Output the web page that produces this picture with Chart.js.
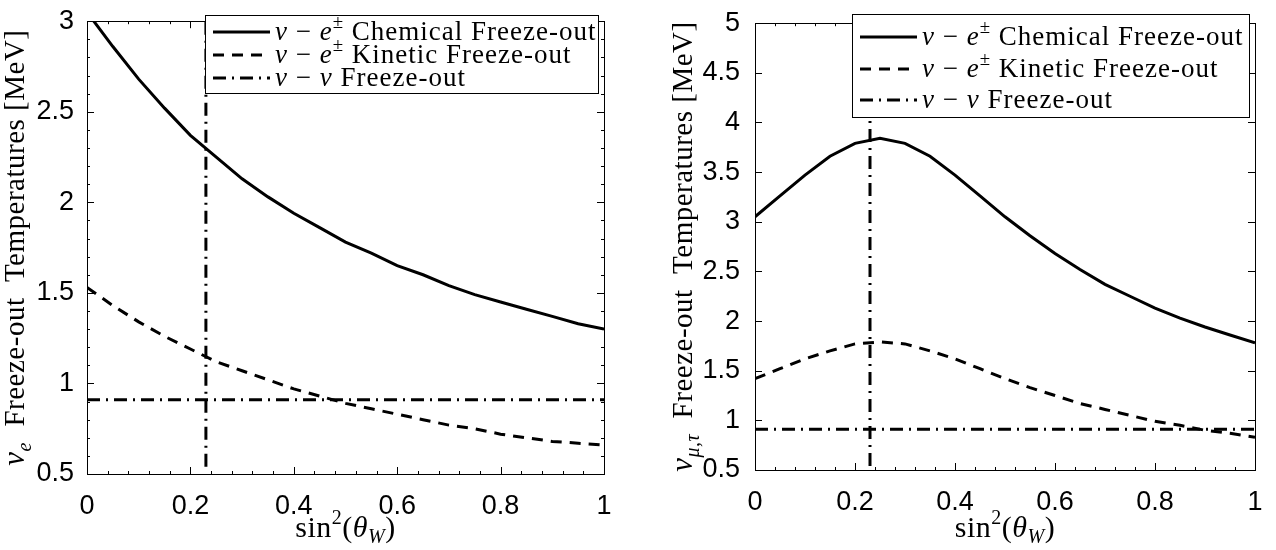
<!DOCTYPE html>
<html>
<head>
<meta charset="utf-8">
<script src="https://cdn.jsdelivr.net/npm/chart.js@4/dist/chart.umd.min.js"></script>
<style>
  html, body { margin: 0; padding: 0; background: #fff; }
  #wrap { position: relative; width: 1276px; height: 550px; }
  #c1 { position: absolute; left: 0; top: 0; }
  #c2 { position: absolute; left: 640px; top: 0; }
</style>
</head>
<body>
<div id="wrap">
  <canvas id="c1" width="640" height="550"></canvas>
  <canvas id="c2" width="636" height="550"></canvas>
</div>
<script>
// sin^2(theta_W) sample points
const sinSq = [0, 0.05, 0.1, 0.15, 0.2, 0.25, 0.3, 0.35, 0.4, 0.45, 0.5,
               0.55, 0.6, 0.65, 0.7, 0.75, 0.8, 0.85, 0.9, 0.95, 1]

// nu_e panel (MeV)
const eChem = [3.05, 2.86, 2.68, 2.52, 2.37, 2.25, 2.13, 2.03, 1.94, 1.86, 1.78,
               1.72, 1.65, 1.60, 1.54, 1.49, 1.45, 1.41, 1.37, 1.33, 1.30]
const eKin = [1.53, 1.43, 1.34, 1.26, 1.19, 1.12, 1.07, 1.02, 0.97, 0.93, 0.89,
              0.86, 0.83, 0.80, 0.77, 0.75, 0.72, 0.70, 0.68, 0.67, 0.66]

// nu_mu,tau panel (MeV)
const muChem = [3.05, 3.26, 3.47, 3.66, 3.79, 3.84, 3.79, 3.66, 3.47, 3.26, 3.05,
                2.86, 2.68, 2.52, 2.37, 2.25, 2.13, 2.03, 1.94, 1.86, 1.78]
const muKin = [1.42, 1.52, 1.62, 1.70, 1.77, 1.79, 1.77, 1.70, 1.62, 1.52, 1.42,
               1.33, 1.25, 1.17, 1.11, 1.05, 0.99, 0.95, 0.90, 0.87, 0.83]

// nu-nu freeze-out (horizontal) and measured sin^2 (vertical)
const nuNuX = [0, 1]
const eNuNu = [0.91, 0.91]
const muNuNu = [0.91, 0.91]
const weinbergX = [0.23, 0.23]
const eWeinbergY = [0.54, 3]
const muWeinbergY = [0.54, 5]

// ticks
const xTicks = [0, 0.2, 0.4, 0.6, 0.8, 1]
const eYTicks = [0.5, 1, 1.5, 2, 2.5, 3]
const muYTicks = [0.5, 1, 1.5, 2, 2.5, 3, 3.5, 4, 4.5, 5]

const SERIF = '"Liberation Serif", "Times New Roman", serif'
const SANS = '"Liberation Sans", Arial, sans-serif'
const DASHED = [11, 8]
const DASHDOT = [13, 6, 2, 6]

function pts(xs, ys) {
    return xs.map((x, i) => ({ x: x, y: ys[i] }))
}

// draws a run of text pieces: [text, font, dy]
function drawRich(ctx, parts, x, y, align) {
    let w = 0
    parts.forEach(p => { ctx.font = p[1]; w += ctx.measureText(p[0]).width })
    let cx = align === 'center' ? x - w / 2 : x
    parts.forEach(p => {
        ctx.font = p[1]
        ctx.fillText(p[0], cx, y + (p[2] || 0))
        cx += ctx.measureText(p[0]).width
    })
}

const rom = s => `${s}px ${SERIF}`
const ital = s => `italic ${s}px ${SERIF}`

function legendRows(fs) {
    return [
        { dash: [], parts: [['ν', ital(fs)], [' − ', rom(fs)], ['e', ital(fs)], ['±', rom(fs * 0.7), -fs * 0.38], [' Chemical Freeze-out', rom(fs)]] },
        { dash: DASHED, parts: [['ν', ital(fs)], [' − ', rom(fs)], ['e', ital(fs)], ['±', rom(fs * 0.7), -fs * 0.38], [' Kinetic Freeze-out', rom(fs)]] },
        { dash: DASHDOT, parts: [['ν', ital(fs)], [' − ', rom(fs)], ['ν', ital(fs)], [' Freeze-out', rom(fs)]] }
    ]
}

function framePlugin(cfg) {
    return {
        id: 'frame',
        afterDatasetsDraw(chart) {
            const ctx = chart.ctx
            const a = chart.chartArea
            const xs = chart.scales.x
            const ys = chart.scales.y
            ctx.save()
            ctx.strokeStyle = '#000'
            ctx.lineWidth = 1
            ctx.setLineDash([])
            // minor + major ticks, inward on all four sides
            ctx.beginPath()
            for (let v = 0; v <= 1.0001; v += 0.04) {
                const px = Math.round(xs.getPixelForValue(v)) + 0.5
                const major = xTicks.some(t => Math.abs(t - v) < 1e-6)
                const len = major ? 7 : 3
                ctx.moveTo(px, a.bottom); ctx.lineTo(px, a.bottom - len)
                ctx.moveTo(px, a.top); ctx.lineTo(px, a.top + len)
            }
            const yMinor = cfg.yMinor ? 0.1 : 0.5
            for (let v = cfg.yMin; v <= cfg.yMax + 1e-4; v += yMinor) {
                const py = Math.round(ys.getPixelForValue(v)) + 0.5
                const major = cfg.yTicks.some(t => Math.abs(t - v) < 1e-6)
                const len = major ? 7 : 3
                ctx.moveTo(a.left, py); ctx.lineTo(a.left + len, py)
                ctx.moveTo(a.right, py); ctx.lineTo(a.right - len, py)
            }
            ctx.stroke()
            ctx.strokeRect(Math.round(a.left) + 0.5, Math.round(a.top) + 0.5,
                Math.round(a.right - a.left), Math.round(a.bottom - a.top))

            // legend box
            const L = cfg.legend
            ctx.fillStyle = '#fff'
            ctx.fillRect(L.x, L.y, L.w, L.h)
            ctx.strokeRect(L.x + 0.5, L.y + 0.5, L.w, L.h)
            ctx.fillStyle = '#000'
            ctx.textBaseline = 'middle'
            ctx.textAlign = 'left'
            ctx.letterSpacing = '1px'
            legendRows(L.fs).forEach((r, i) => {
                const ry = L.rows[i]
                ctx.beginPath()
                ctx.lineWidth = 3
                ctx.setLineDash(r.dash)
                ctx.moveTo(L.lineX0, ry); ctx.lineTo(L.lineX1, ry)
                ctx.stroke()
                drawRich(ctx, r.parts, L.textX, ry + 1, 'left')
            })
            ctx.setLineDash([])

            // axis titles
            ctx.textBaseline = 'alphabetic'
            ctx.letterSpacing = '0.5px'
            drawRich(ctx, [['sin', rom(30)], ['2', rom(20), -13], ['(', rom(30)], ['θ', ital(30)], ['W', ital(20), 6], [')', rom(30)]],
                (a.left + a.right) / 2, 537, 'center')
            ctx.translate(cfg.yTitleX, (a.top + a.bottom) / 2)
            ctx.rotate(-Math.PI / 2)
            drawRich(ctx, [['ν', ital(31)], [cfg.sub, ital(20), 7], ['  Freeze-out  Temperatures [MeV]', rom(29)]], 0, 0, 'center')
            ctx.restore()
        }
    }
}

function makeChart(canvas, o) {
    const lw = 3
    return new Chart(canvas, {
        type: 'line',
        data: {
            datasets: [
                { data: pts(sinSq, o.chem), borderColor: '#000', borderWidth: lw, pointRadius: 0, tension: 0 },
                { data: pts(sinSq, o.kin), borderColor: '#000', borderWidth: lw, borderDash: DASHED, pointRadius: 0, tension: 0 },
                { data: pts(nuNuX, o.nunu), borderColor: '#000', borderWidth: lw, borderDash: DASHDOT, pointRadius: 0 },
                { data: pts(weinbergX, o.wy), borderColor: '#000', borderWidth: lw, borderDash: DASHDOT, pointRadius: 0 }
            ]
        },
        options: {
            responsive: false,
            animation: false,
            devicePixelRatio: 1,
            layout: { padding: o.pad },
            plugins: { legend: { display: false }, tooltip: { enabled: false } },
            scales: {
                x: {
                    type: 'linear', min: 0, max: 1,
                    grid: { display: false }, border: { display: false },
                    afterBuildTicks: s => { s.ticks = xTicks.map(v => ({ value: v })) },
                    afterFit: s => { s.height = o.xH },
                    ticks: { color: '#000', padding: 8, maxRotation: 0, font: { family: SANS, size: 27 },
                             callback: v => String(v) }
                },
                y: {
                    type: 'linear', min: o.yTicks[0], max: o.yTicks[o.yTicks.length - 1],
                    grid: { display: false }, border: { display: false },
                    afterBuildTicks: s => { s.ticks = o.yTicks.map(v => ({ value: v })) },
                    afterFit: s => { s.width = o.yW },
                    ticks: { color: '#000', padding: o.yPad, font: { family: SANS, size: 27 },
                             callback: v => String(v) }
                }
            }
        },
        plugins: [framePlugin(o.frame)]
    })
}

makeChart(document.getElementById('c1'), {
    chem: eChem, kin: eKin, nunu: eNuNu, wy: eWeinbergY, yTicks: eYTicks,
    pad: { top: 9, right: 36, left: 0, bottom: 0 }, xH: 76, yW: 87, yPad: 5,
    frame: {
        yTicks: eYTicks, yMin: 0.5, yMax: 3, yMinor: true, sub: 'e', yTitleX: 24,
        legend: { x: 205, y: 15, w: 393, h: 78, fs: 27, rows: [32, 55, 78], lineX0: 213, lineX1: 270, textX: 275 }
    }
})

makeChart(document.getElementById('c2'), {
    chem: muChem, kin: muKin, nunu: muNuNu, wy: muWeinbergY, yTicks: muYTicks,
    pad: { top: 12, right: 21, left: 0, bottom: 0 }, xH: 80, yW: 115, yPad: 7,
    frame: {
        yTicks: muYTicks, yMin: 0.5, yMax: 5, yMinor: false, sub: 'μ,τ', yTitleX: 52,
        legend: { x: 212, y: 14, w: 397, h: 103, fs: 27, rows: [37, 69, 100], lineX0: 220, lineX1: 277, textX: 282 }
    }
})
</script>
</body>
</html>
